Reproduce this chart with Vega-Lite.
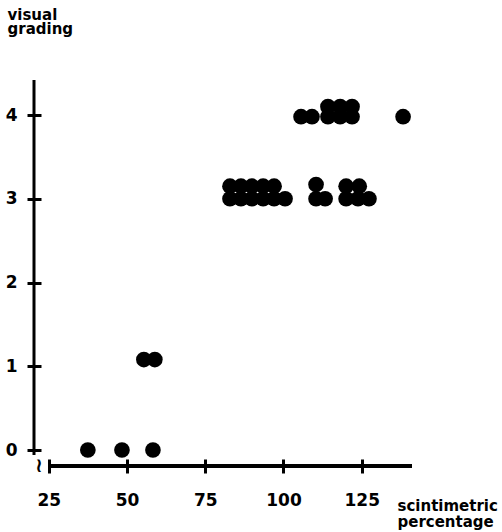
{
  "$schema": "https://vega.github.io/schema/vega-lite/v6.json",
  "width": 378,
  "height": 386,
  "autosize": "none",
  "padding": {"left": 34, "top": 80, "right": 90, "bottom": 66},
  "background": "white",
  "config": {"view": {"stroke": null}},
  "layer": [
    {
      "data": {"values": [
        {"pct": 37.5, "grade": 0}, {"pct": 48.4, "grade": 0}, {"pct": 58.3, "grade": 0},
        {"pct": 55.4, "grade": 1.08}, {"pct": 58.9, "grade": 1.08},
        {"pct": 82.9, "grade": 3.0}, {"pct": 86.4, "grade": 3.0}, {"pct": 89.9, "grade": 3.0}, {"pct": 93.5, "grade": 3.0}, {"pct": 97.0, "grade": 3.0}, {"pct": 100.5, "grade": 3.0},
        {"pct": 82.9, "grade": 3.15}, {"pct": 86.4, "grade": 3.15}, {"pct": 89.9, "grade": 3.15}, {"pct": 93.5, "grade": 3.15}, {"pct": 97.0, "grade": 3.15},
        {"pct": 110.4, "grade": 3.0}, {"pct": 113.3, "grade": 3.0}, {"pct": 120.0, "grade": 3.0}, {"pct": 123.8, "grade": 3.0}, {"pct": 127.3, "grade": 3.0},
        {"pct": 110.4, "grade": 3.17}, {"pct": 120.0, "grade": 3.15}, {"pct": 124.2, "grade": 3.15},
        {"pct": 105.6, "grade": 3.98}, {"pct": 109.1, "grade": 3.98}, {"pct": 114.2, "grade": 3.98}, {"pct": 118.1, "grade": 3.98}, {"pct": 121.9, "grade": 3.98}, {"pct": 138.2, "grade": 3.98},
        {"pct": 114.2, "grade": 4.1}, {"pct": 118.1, "grade": 4.1}, {"pct": 121.9, "grade": 4.1}
      ]},
      "mark": {"type": "point", "filled": true, "color": "black", "size": 245, "opacity": 1, "strokeWidth": 0},
      "encoding": {
        "x": {
          "field": "pct", "type": "quantitative",
          "scale": {"domain": [20.3, 141.05], "nice": false, "zero": false},
          "axis": {
            "values": [25, 50, 75, 100, 125], "format": "d",
            "domain": false, "grid": false, "offset": -7,
            "tickSize": 14, "tickWidth": 3, "tickColor": "black",
            "labelFont": "DejaVu Sans", "labelFontWeight": "bold", "labelFontSize": 17, "labelColor": "black", "labelPadding": 19,
            "title": ["scintimetric", "percentage"],
            "titleFont": "DejaVu Sans", "titleFontWeight": "bold", "titleFontSize": 15, "titleColor": "black",
            "titleAngle": 0, "titleAlign": "left", "titleBaseline": "alphabetic", "titleX": 363, "titleY": 51, "titleLineHeight": 16
          }
        },
        "y": {
          "field": "grade", "type": "quantitative",
          "scale": {"domain": [-0.191, 4.418], "nice": false, "zero": false},
          "axis": {
            "values": [0, 1, 2, 3, 4], "format": "d",
            "domain": false, "grid": false, "offset": -7,
            "tickSize": 14, "tickWidth": 3, "tickColor": "black",
            "labelFont": "DejaVu Sans", "labelFontWeight": "bold", "labelFontSize": 17, "labelColor": "black", "labelPadding": 10,
            "title": ["visual", "grading"],
            "titleFont": "DejaVu Sans", "titleFontWeight": "bold", "titleFontSize": 15, "titleColor": "black",
            "titleAngle": 0, "titleAlign": "left", "titleBaseline": "alphabetic", "titleX": -34, "titleY": -61, "titleLineHeight": 14
          }
        }
      }
    },
    {
      "data": {"values": [{}]},
      "mark": {"type": "rule", "color": "black", "strokeWidth": 4},
      "encoding": {
        "x": {"datum": 25},
        "x2": {"datum": 141.05},
        "y": {"datum": -0.191}
      }
    },
    {
      "data": {"values": [{}]},
      "mark": {"type": "rule", "color": "black", "strokeWidth": 3},
      "encoding": {
        "x": {"datum": 20.3},
        "y": {"datum": -0.06},
        "y2": {"datum": 4.418}
      }
    },
    {
      "data": {"values": [{}]},
      "mark": {"type": "text", "text": "≀", "font": "DejaVu Sans", "fontWeight": "bold", "fontSize": 20, "color": "black", "baseline": "middle", "align": "center"},
      "encoding": {
        "x": {"datum": 21.9},
        "y": {"datum": -0.191}
      }
    }
  ]
}
